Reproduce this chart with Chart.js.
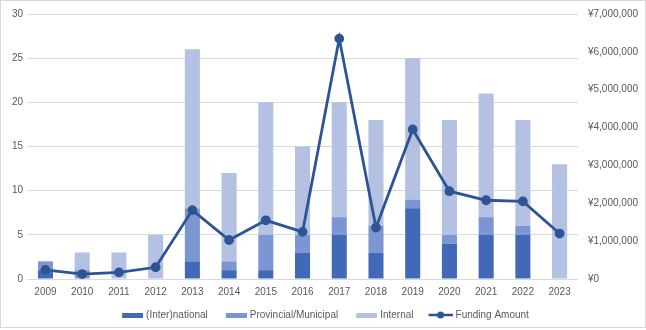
<!DOCTYPE html>
<html>
<head>
<meta charset="utf-8">
<script src="https://cdn.jsdelivr.net/npm/chart.js@4"></script>
<style>
  body { margin: 0; background: #fff; overflow: hidden; }
  #frame {
    position: absolute; left: 0; top: 0;
    width: 646px; height: 328px;
    box-sizing: border-box;
    border: 1px solid #d9d9d9;
    background: #fff;
  }
  /* canvas shifted a bit so the plot area lines up with the original */
  #wrap { position: absolute; left: 0; top: -3px; width: 644px; height: 332px; }
</style>
</head>
<body>
<div id="frame"><div id="wrap"><canvas id="chart"></canvas></div></div>
<script>
const years = ["2009", "2010", "2011", "2012", "2013", "2014", "2015", "2016",
  "2017", "2018", "2019", "2020", "2021", "2022", "2023"];
const national = [1, 0, 0, 0, 2, 1, 1, 3, 5, 3, 8, 4, 5, 5, 0];
const provincial = [1, 1, 0, 0, 6, 1, 4, 2, 2, 3, 1, 1, 2, 1, 0];
const internal = [0, 2, 3, 5, 18, 10, 15, 10, 13, 12, 16, 13, 14, 12, 13];
const funding = [240000, 130000, 175000, 310000, 1820000, 1030000, 1550000, 1245000,
  6350000, 1360000, 3950000, 2320000, 2080000, 2050000, 1200000];
const leftTicks = [0, 5, 10, 15, 20, 25, 30];

const colors = {
  national: "#4169b8",
  provincial: "#7c96d2",
  internal: "#b5c1e2",
  line: "#2f5496",
  text: "#595959",
  grid: "#d9d9d9",
};
const font = { family: "Liberation Sans, Arial", size: 10 };

// legend markers: drawn flush right in a wider transparent image,
// which gives the wide gap between items and the narrow gap before the text
const MARK_BOX = 32;
const MARK_W = MARK_BOX + 4;
function rectMarker(color) {
  const c = document.createElement("canvas");
  c.width = MARK_W; c.height = 8;
  const x = c.getContext("2d");
  x.fillStyle = color;
  x.fillRect(MARK_W - 21, 2, 21, 5);
  return c;
}
function lineMarker(color) {
  const c = document.createElement("canvas");
  c.width = MARK_W; c.height = 8;
  const x = c.getContext("2d");
  x.strokeStyle = color;
  x.lineWidth = 2.5;
  x.beginPath(); x.moveTo(MARK_W - 24, 4); x.lineTo(MARK_W, 4); x.stroke();
  x.fillStyle = color;
  x.beginPath(); x.arc(MARK_W - 12, 4, 3.5, 0, Math.PI * 2); x.fill();
  return c;
}
const markers = [rectMarker(colors.national), rectMarker(colors.provincial),
  rectMarker(colors.internal), lineMarker(colors.line)];

// nudge the legend left, its markers carry empty space on their left side
const legendShift = {
  id: "legendShift",
  afterUpdate(chart) {
    chart.legend.left -= 9;
    chart.legend.right -= 9;
  },
};

const barOpts = { type: "bar", yAxisID: "y", order: 1, barPercentage: 0.41, categoryPercentage: 1 };

new Chart(document.getElementById("chart"), {
  data: {
    labels: years,
    datasets: [
      { ...barOpts, label: "(Inter)national", data: national, backgroundColor: colors.national },
      { ...barOpts, label: "Provincial/Municipal", data: provincial, backgroundColor: colors.provincial },
      { ...barOpts, label: "Internal", data: internal, backgroundColor: colors.internal },
      {
        type: "line", label: "Funding Amount", data: funding, yAxisID: "y1", order: 0,
        borderColor: colors.line, backgroundColor: colors.line, borderWidth: 2.8,
        pointRadius: 3.5, pointHoverRadius: 3.5, tension: 0,
      },
    ],
  },
  plugins: [legendShift],
  options: {
    responsive: true,
    maintainAspectRatio: false,
    animation: false,
    layout: { padding: { top: 0, left: 7, right: -3, bottom: 0 } },
    plugins: {
      tooltip: { enabled: false },
      legend: {
        position: "bottom",
        labels: {
          usePointStyle: true,
          pointStyleWidth: MARK_BOX,
          padding: 5,
          color: colors.text,
          font: font,
          generateLabels(chart) {
            const items = Chart.defaults.plugins.legend.labels.generateLabels(chart);
            items.forEach((it) => { it.pointStyle = markers[it.datasetIndex]; });
            return items;
          },
          sort: (a, b) => a.datasetIndex - b.datasetIndex,
        },
      },
    },
    scales: {
      x: {
        stacked: true,
        grid: { display: false, drawTicks: false },
        border: { display: false },
        ticks: { color: colors.text, font: font, padding: 7, maxRotation: 0 },
      },
      y: {
        stacked: true,
        min: leftTicks[0],
        max: leftTicks[leftTicks.length - 1],
        position: "left",
        grid: { color: colors.grid, drawTicks: false, lineWidth: 1 },
        border: { display: false },
        ticks: { stepSize: 5, color: colors.text, padding: 4, font: font },
      },
      y1: {
        min: 0,
        max: 7000000,
        position: "right",
        grid: { display: false, drawTicks: false },
        border: { display: false },
        ticks: {
          stepSize: 1000000,
          padding: 10,
          color: colors.text,
          font: font,
          callback: (v) => "¥" + v.toLocaleString("en-US"),
        },
      },
    },
  },
});
</script>
</body>
</html>
